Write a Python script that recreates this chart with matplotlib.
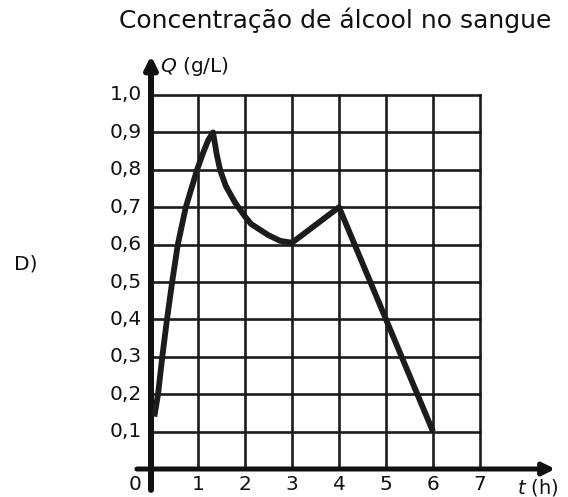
import matplotlib
matplotlib.use('Agg')
import matplotlib.pyplot as plt

plt.rcParams['font.family'] = ['DejaVu Sans']

# curve
t_values = [0.07, 0.15, 0.24, 0.34, 0.45, 0.57, 0.74, 0.98, 1.11, 1.22, 1.32,
            1.40, 1.47, 1.59, 1.79, 2.0, 2.13, 2.5, 2.75, 3.0, 4.0, 6.0]
q_values = [0.14, 0.20, 0.30, 0.40, 0.50, 0.60, 0.70, 0.80, 0.846, 0.88, 0.90,
            0.84, 0.80, 0.757, 0.712, 0.675, 0.655, 0.625, 0.61, 0.605, 0.70, 0.10]

x_ticks = [1, 2, 3, 4, 5, 6, 7]
y_ticks = [0.1, 0.2, 0.3, 0.4, 0.5, 0.6, 0.7, 0.8, 0.9, 1.0]
y_labels = ['0,1', '0,2', '0,3', '0,4', '0,5', '0,6', '0,7', '0,8', '0,9', '1,0']

title = 'Concentração de álcool no sangue'
ink = '#1c1c1c'

fig = plt.figure(figsize=(5.68, 4.97), dpi=100)
ax = fig.add_axes([151 / 568, 28 / 497, 329 / 568, 374 / 497])
ax.set_xlim(0, 7)
ax.set_ylim(0, 1.0)
ax.axis('off')

# grid
for x in x_ticks:
    ax.plot([x, x], [0, 1.0], color=ink, lw=1.9, clip_on=False, zorder=1)
for y in y_ticks:
    ax.plot([0, 7], [y, y], color=ink, lw=1.9, clip_on=False, zorder=1)

# axes with arrows
ax.annotate('', xy=(8.6, 0), xytext=(-0.3, 0),
            arrowprops=dict(arrowstyle='-|>', color='#111111', lw=3.6, mutation_scale=18,
                            shrinkA=0, shrinkB=0),
            annotation_clip=False, zorder=3)
ax.annotate('', xy=(0, 1.105), xytext=(0, -0.056),
            arrowprops=dict(arrowstyle='-|>', color='#111111', lw=4.3, mutation_scale=18,
                            shrinkA=0, shrinkB=0),
            annotation_clip=False, zorder=3)

# curve
ax.plot(t_values, q_values, color=ink, lw=4.2, solid_capstyle='butt',
        solid_joinstyle='round', clip_on=False, zorder=4)

# tick labels
for y, lab in zip(y_ticks, y_labels):
    ax.text(-0.19, y, lab, ha='right', va='center', fontsize=14.5, color='#111111')
for x in x_ticks:
    ax.text(x, -0.042, str(x), ha='center', va='center', fontsize=14.5, color='#111111')
ax.text(-0.34, -0.042, '0', ha='center', va='center', fontsize=14.5, color='#111111')

# axis names
ax.text(0.19, 1.075, r'$Q$ (g/L)', ha='left', va='center', fontsize=14.5, color='#111111')
ax.text(7.78, -0.05, r'$t$ (h)', ha='left', va='center', fontsize=14, color='#111111')

fig.text(335 / 568, 1 - 20 / 497, title, ha='center', va='center', fontsize=18, color='#111111')
fig.text(26 / 568, 1 - 264 / 497, 'D)', ha='center', va='center', fontsize=14.5, color='#111111')

fig.savefig('out.png', dpi=100, facecolor='white')
